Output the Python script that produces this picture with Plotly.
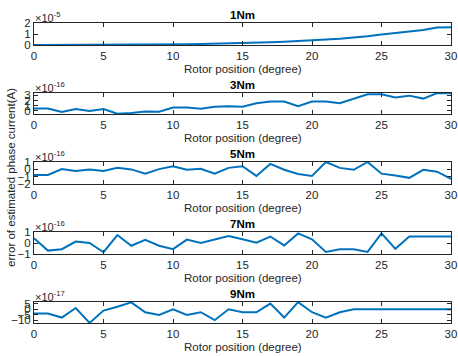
import plotly.graph_objects as go

# Data
positions = list(range(31))

err_1Nm = [0, 0.0005, 0.002, 0.004, 0.007, 0.011, 0.016, 0.022, 0.03, 0.04,
           0.055, 0.07, 0.09, 0.11, 0.14, 0.17, 0.21, 0.25, 0.29, 0.34,
           0.41, 0.49, 0.57, 0.67, 0.80, 0.95, 1.07, 1.21, 1.37, 1.60, 1.62]  # x1e-5
err_3Nm = [0.47, 0.47, -0.23, 0.34, -0.04, 0.34, -0.55, -0.4, -0.1, -0.15,
           0.66, 0.66, 0.4, 0.78, 0.9, 0.78, 1.48, 1.8, 1.8, 0.9,
           1.8, 1.8, 1.48, 2.37, 3.2, 3.2, 2.6, 2.94, 2.37, 3.42, 3.42]  # x1e-16
err_5Nm = [-0.76, -0.76, 0.03, -0.24, -0.01, -0.24, 0.2, -0.01, -0.59, 0.03,
           0.43, -0.06, 0.07, -0.59, 0.2, 0.43, -0.9, 0.74, -0.06, -0.63,
           -0.9, 1.0, 0.2, -0.06, 1.0, -0.59, -0.85, -1.16, -0.06, -0.32, -1.29]  # x1e-16
err_7Nm = [0.44, -0.69, -0.56, 0.125, 0.0, -0.84, 0.72, -0.25, 0.28, -0.25,
           -0.56, 0.31, 0.0, 0.31, 0.625, 0.34, 0.03, 0.59, -0.22, 0.875,
           0.34, -0.81, -0.56, -0.56, -0.81, 0.875, -0.53, 0.59, 0.59, 0.59, 0.59]  # x1e-16
err_9Nm = [-3.9, -3.9, -7.6, 1.2, -12.5, -1.2, 2.4, 6.4, -2.7, -5.2,
           0.0, -5.2, -2.7, -10.0, 0.0, -2.7, -2.7, 5.2, -7.6, 6.6,
           -2.7, -7.6, -2.7, 0, 0, 0, 0, 0, 0, 0, 0]  # x1e-17

titles = ["1Nm", "3Nm", "5Nm", "7Nm", "9Nm"]
exponents = ["-5", "-16", "-16", "-16", "-17"]
series = [err_1Nm, err_3Nm, err_5Nm, err_7Nm, err_9Nm]
y_ranges = [[0, 2], [-0.6, 3.45], [-2, 1], [-1, 1], [-12.6, 6.7]]
y_ticks = [[0, 1, 2], [0, 1, 2, 3], [-2, -1, 0, 1], [-1, 0, 1], [-10, -5, 0, 5]]
x_ticks = [0, 5, 10, 15, 20, 25, 30]
x_label = "Rotor position (degree)"
y_label = "error of estimated phase current(A)"

W, H = 458, 356
L, R = 34, 7
# pixel positions (top, bottom) of each axes box
boxes = [(23, 45), (93, 114), (162, 184), (232, 254), (302, 323)]

font = "Liberation Sans, Arial, sans-serif"
axcol = "#262626"
fig = go.Figure()
layout = dict(width=W, height=H, margin=dict(l=L, r=R, t=0, b=0, autoexpand=False),
              paper_bgcolor="white", plot_bgcolor="white", showlegend=False,
              hovermode=False,
              font=dict(family=font, size=11, color=axcol))
annotations = []
for i in range(5):
    n = "" if i == 0 else str(i + 1)
    top, bot = boxes[i]
    fig.add_trace(go.Scatter(x=positions, y=series[i], mode="lines",
                             line=dict(color="#0072BD", width=2),
                             xaxis="x" + n, yaxis="y" + n))
    layout["xaxis" + n] = dict(domain=[0, 1], range=[0, 30], tickvals=x_ticks,
                               ticks="inside", ticklen=4, tickcolor=axcol,
                               showline=True, linecolor=axcol, linewidth=1,
                               mirror="ticks", showgrid=False, zeroline=False,
                               anchor="y" + n, ticklabeloverflow="allow",
                               tickfont=dict(size=11.5, color=axcol))
    layout["yaxis" + n] = dict(domain=[1 - bot / H, 1 - top / H], range=y_ranges[i],
                               tickvals=y_ticks[i], ticks="inside", ticklen=4,
                               tickcolor=axcol, showline=True, linecolor=axcol,
                               linewidth=1, mirror="ticks", showgrid=False,
                               zeroline=False, anchor="x" + n,
                               ticklabeloverflow="allow",
                               tickfont=dict(size=11.5, color=axcol))
    annotations.append(dict(text="<b>" + titles[i] + "</b>", x=0.5, xref="paper",
                            y=1 - (top - 8) / H, yref="paper", showarrow=False,
                            xanchor="center", yanchor="middle",
                            font=dict(size=11.5, color="black")))
    annotations.append(dict(text=x_label, x=0.5, xref="paper",
                            y=1 - (bot + 24) / H, yref="paper", showarrow=False,
                            xanchor="center", yanchor="middle",
                            font=dict(size=11.5, color=axcol)))
    annotations.append(dict(text="\u00d710<sup>" + exponents[i] + "</sup>", x=0, xref="paper",
                            y=1 - (top - 6) / H, yref="paper", showarrow=False,
                            xanchor="left", yanchor="middle", xshift=-1,
                            font=dict(size=11, color=axcol)))
annotations.append(dict(text=y_label, textangle=-90, x=-23 / (W - L - R), xref="paper",
                        y=1 - 178 / H, yref="paper", showarrow=False,
                        xanchor="center", yanchor="middle",
                        font=dict(size=11.5, color=axcol)))
layout["annotations"] = annotations
fig.update_layout(**layout)
fig.write_html("out.html", config={"displayModeBar": False, "staticPlot": True},
               post_script="document.body.style.margin='0';document.body.style.padding='0';")
